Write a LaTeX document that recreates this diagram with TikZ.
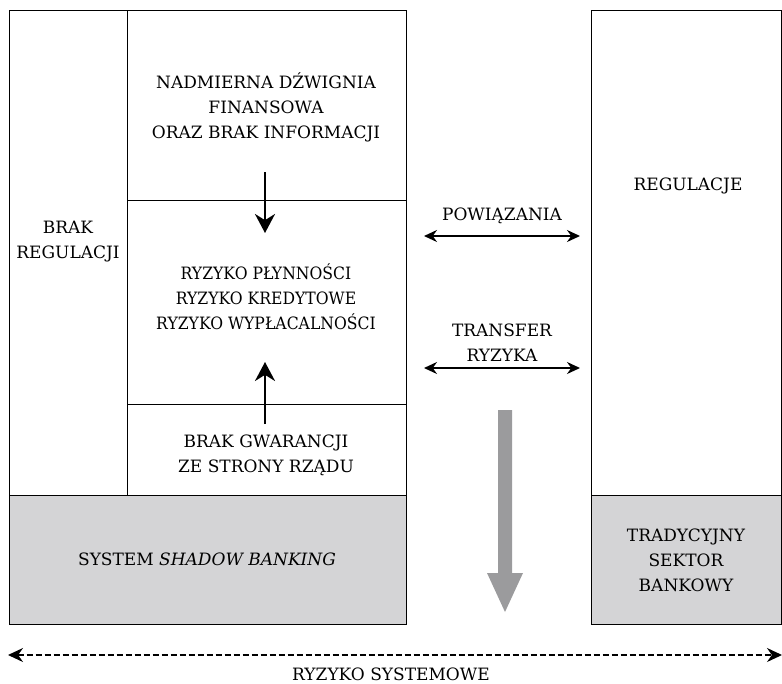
\documentclass[tikz,border=0pt]{standalone}
\usepackage{fontspec}
\setmainfont{DejaVu Serif}
\newfontfamily\narrowserif[FakeStretch=0.92]{DejaVu Serif}
\usetikzlibrary{arrows.meta}
\definecolor{boxgrey}{HTML}{D4D4D6}
\definecolor{arrgrey}{HTML}{9B9B9D}
\begin{document}
\begin{tikzpicture}[x=1pt,y=-1pt,
  box/.style={draw, line width=1pt, inner sep=0pt, outer sep=0pt},
  greybox/.style={box, fill=boxgrey},
  lbl/.style={align=center, font=\fontsize{17}{25}\selectfont, inner sep=0pt},
  thickarr/.style={line width=2.6pt, -{Stealth[length=19pt,width=20pt]}},
  dblarr/.style={line width=1.6pt, {Stealth[length=13pt,width=12pt]}-{Stealth[length=13pt,width=12pt]}},
  dasharr/.style={line width=1.4pt, dash pattern=on 6pt off 3pt, {Stealth[length=15pt,width=14pt]}-{Stealth[length=15pt,width=14pt]}}]
\useasboundingbox (0,0) rectangle (782,683);
% boxes
\node[box, minimum width=118pt, minimum height=485pt] (leftcol) at (68,252.5) {};
\node[box, minimum width=279pt, minimum height=190pt] (topbox) at (266.5,105) {};
\node[box, minimum width=279pt, minimum height=204pt] (midbox) at (266.5,302) {};
\node[box, minimum width=279pt, minimum height=91pt] (botbox) at (266.5,449.5) {};
\node[greybox, minimum width=397pt, minimum height=129pt] (shadow) at (207.5,559.5) {};
\node[box, minimum width=190pt, minimum height=485pt] (regbox) at (686,252.5) {};
\node[greybox, minimum width=190pt, minimum height=129pt] (tradbox) at (686,559.5) {};
% texts
\node[lbl] (t1) at (266,107) {NADMIERNA DŹWIGNIA\\FINANSOWA\\ORAZ BRAK INFORMACJI};
\node[lbl] (t2) at (68,242) {BRAK\\REGULACJI};
\node[lbl, font=\fontsize{17}{25}\selectfont\narrowserif] (t3) at (266,297) {RYZYKO PŁYNNOŚCI\\RYZYKO KREDYTOWE\\RYZYKO WYPŁACALNOŚCI};
\node[lbl] (t4) at (266,455) {BRAK GWARANCJI\\ZE STRONY RZĄDU};
\node[lbl] (t5) at (207,559) {SYSTEM \textit{SHADOW BANKING}};
\node[lbl] (t6) at (688,186) {REGULACJE};
\node[lbl] (t7) at (686,560) {TRADYCYJNY\\SEKTOR\\BANKOWY};
\node[lbl] (t8) at (502,216) {POWIĄZANIA};
\node[lbl] (t9) at (502,343) {TRANSFER\\RYZYKA};
\node[lbl] (t10) at (391,674) {RYZYKO SYSTEMOWE};
% arrow end points
\coordinate (d1) at (265,172);
\coordinate (d2) at (265,233);
\coordinate (u1) at (265,424);
\coordinate (u2) at (265,362);
\coordinate (p1) at (424,236);
\coordinate (p2) at (580,236);
\coordinate (r1) at (424,368);
\coordinate (r2) at (580,368);
\coordinate (s1) at (8,655);
\coordinate (s2) at (782,655);
% arrows
\draw[thickarr] (d1) -- (d2);
\draw[thickarr] (u1) -- (u2);
\draw[dblarr] (p1) -- (p2);
\draw[dblarr] (r1) -- (r2);
\draw[dasharr] (s1) -- (s2);
% grey arrow
\fill[arrgrey] (498,410) -- (512,410) -- (512,573) -- (523,573) -- (505,612) -- (487,573) -- (498,573) -- cycle;
\end{tikzpicture}
\end{document}
